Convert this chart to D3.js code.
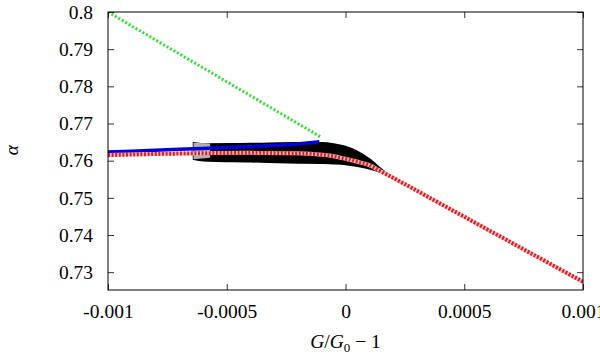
<!DOCTYPE html>
<html>
<head>
<meta charset="utf-8">
<script src="https://cdn.jsdelivr.net/npm/d3@7"></script>
<style>
  body { margin: 0; background: #fff; }
  text { font-family: "Liberation Serif", "Times New Roman", serif; }
</style>
</head>
<body>
<div id="chart"></div>
<script>
// data
const xTicks = [-0.001, -0.0005, 0, 0.0005, 0.001];
const xTickLabels = ["-0.001", "-0.0005", "0", "0.0005", "0.001"];
const yTicks = [0.73, 0.74, 0.75, 0.76, 0.77, 0.78, 0.79, 0.8];
const yTickLabels = ["0.73", "0.74", "0.75", "0.76", "0.77", "0.78", "0.79", "0.8"];

const greenX = [-0.001, -0.000105];
const greenY = [0.8, 0.7664];

const blueX = [-0.001, -0.0008, -0.0006, -0.0004, -0.0002, -0.00011];
const blueY = [0.7623, 0.7628, 0.7633, 0.7638, 0.7645, 0.7651];

const redX = [-0.001, -0.0008, -0.0006, -0.0004, -0.0002, -0.0001, -0.00005, 0, 0.00005, 0.0001, 0.00015, 0.0002, 0.0005, 0.001];
const redY = [0.7615, 0.7618, 0.7620, 0.7621, 0.7620, 0.7616, 0.7612, 0.7605, 0.7597, 0.7588, 0.7571, 0.7554, 0.7449, 0.7274];

// black scatter band: upper and lower envelope
const bandX = [-0.00064, -0.0006, -0.0004, -0.0002, -0.0001, -0.00005, 0, 0.00005, 0.0001, 0.00015, 0.00018];
const bandTop = [0.7648, 0.7645, 0.7646, 0.7648, 0.7648, 0.7645, 0.7638, 0.7625, 0.7605, 0.7578, 0.7562];
const bandBottom = [0.7604, 0.7600, 0.7597, 0.7594, 0.7593, 0.7592, 0.7590, 0.7585, 0.7578, 0.7568, 0.7560];

// gray tip at the start of the band
const tipX = [-0.00064, -0.00057];
const tipTop = [0.7648, 0.7646];
const tipBottom = [0.7604, 0.7608];

const width = 600, height = 355;
const margin = { left: 108, right: 17, top: 12, bottom: 65 };
const font = '"Liberation Serif", "Times New Roman", serif';

const svg = d3.select("#chart").append("svg")
  .attr("width", width)
  .attr("height", height);

const x = d3.scaleLinear().domain([-0.001, 0.001]).range([margin.left, width - margin.right]);
const y = d3.scaleLinear().domain([0.7252, 0.8]).range([height - margin.bottom, margin.top]);

const plot = svg.append("g");

plot.append("clipPath").attr("id", "clip")
  .append("rect")
  .attr("x", margin.left).attr("y", margin.top)
  .attr("width", x.range()[1] - margin.left)
  .attr("height", y.range()[0] - margin.top);

const marks = plot.append("g").attr("clip-path", "url(#clip)");

const line = d3.line().x(d => x(d[0])).y(d => y(d[1]));
const smooth = d3.line().x(d => x(d[0])).y(d => y(d[1])).curve(d3.curveMonotoneX);

// band
const band = d3.area()
  .x(d => x(d[0])).y0(d => y(d[2])).y1(d => y(d[1]))
  .curve(d3.curveMonotoneX);

marks.append("path")
  .datum(bandX.map((v, i) => [v, bandTop[i], bandBottom[i]]))
  .attr("d", band)
  .attr("fill", "#000")
  .attr("stroke", "#000")
  .attr("stroke-width", 1.5);

marks.append("path")
  .datum(tipX.map((v, i) => [v, tipTop[i], tipBottom[i]]))
  .attr("d", band)
  .attr("fill", "#b0b0b0");

// green dotted
marks.append("path")
  .datum(greenX.map((v, i) => [v, greenY[i]]))
  .attr("d", line)
  .attr("fill", "none")
  .attr("stroke", "#33dd33")
  .attr("stroke-width", 3)
  .attr("stroke-dasharray", "2,2");

// blue solid
marks.append("path")
  .datum(blueX.map((v, i) => [v, blueY[i]]))
  .attr("d", smooth)
  .attr("fill", "none")
  .attr("stroke", "#0000dd")
  .attr("stroke-width", 3.5);

// red dotted over a pale line
const redData = redX.map((v, i) => [v, redY[i]]);
marks.append("path")
  .datum(redData)
  .attr("d", smooth)
  .attr("fill", "none")
  .attr("stroke", "#f4c4c4")
  .attr("stroke-width", 4);

marks.append("path")
  .datum(redData)
  .attr("d", smooth)
  .attr("fill", "none")
  .attr("stroke", "#e01c24")
  .attr("stroke-width", 4)
  .attr("stroke-dasharray", "2,1.6");

// frame
plot.append("rect")
  .attr("x", margin.left).attr("y", margin.top)
  .attr("width", x.range()[1] - margin.left)
  .attr("height", y.range()[0] - margin.top)
  .attr("fill", "none")
  .attr("stroke", "#000")
  .attr("stroke-width", 1);

// ticks on all four sides, pointing inwards
const tickLen = 6;
const xAxisB = d3.axisBottom(x).tickValues(xTicks).tickSize(-tickLen)
  .tickFormat((d, i) => xTickLabels[i]).tickPadding(14);
const xAxisT = d3.axisTop(x).tickValues(xTicks).tickSize(-tickLen).tickFormat("");
const yAxisL = d3.axisLeft(y).tickValues(yTicks).tickSize(-tickLen)
  .tickFormat((d, i) => yTickLabels[i]).tickPadding(15);
const yAxisR = d3.axisRight(y).tickValues(yTicks).tickSize(-tickLen).tickFormat("");

function style(g) {
  g.attr("font-family", font).attr("font-size", 19.5);
  g.select(".domain").remove();
  g.selectAll(".tick line").attr("stroke", "#000").attr("stroke-width", 0.8);
  g.selectAll(".tick text").attr("fill", "#000")
    .style("font-family", font).style("font-size", "19.5px");
}

svg.append("g").attr("transform", `translate(0,${y.range()[0]})`).call(xAxisB).call(style);
svg.append("g").attr("transform", `translate(0,${margin.top})`).call(xAxisT).call(style);
svg.append("g").attr("transform", `translate(${margin.left},0)`).call(yAxisL).call(style);
svg.append("g").attr("transform", `translate(${x.range()[1]},0)`).call(yAxisR).call(style);

// axis titles
const xt = svg.append("text")
  .attr("x", x(0))
  .attr("y", 348)
  .attr("text-anchor", "middle")
  .style("font-family", font)
  .style("font-size", "19.5px");
xt.append("tspan").attr("font-style", "italic").text("G");
xt.append("tspan").text("/");
xt.append("tspan").attr("font-style", "italic").text("G");
xt.append("tspan").attr("font-size", "13px").attr("dy", 4).text("0");
xt.append("tspan").attr("dy", -4).text(" \u2212 1");

svg.append("text")
  .attr("transform", `translate(18,150) rotate(-90)`)
  .attr("text-anchor", "middle")
  .attr("font-style", "italic")
  .style("font-family", font)
  .style("font-size", "19.5px")
  .text("\u03b1");
</script>
</body>
</html>
